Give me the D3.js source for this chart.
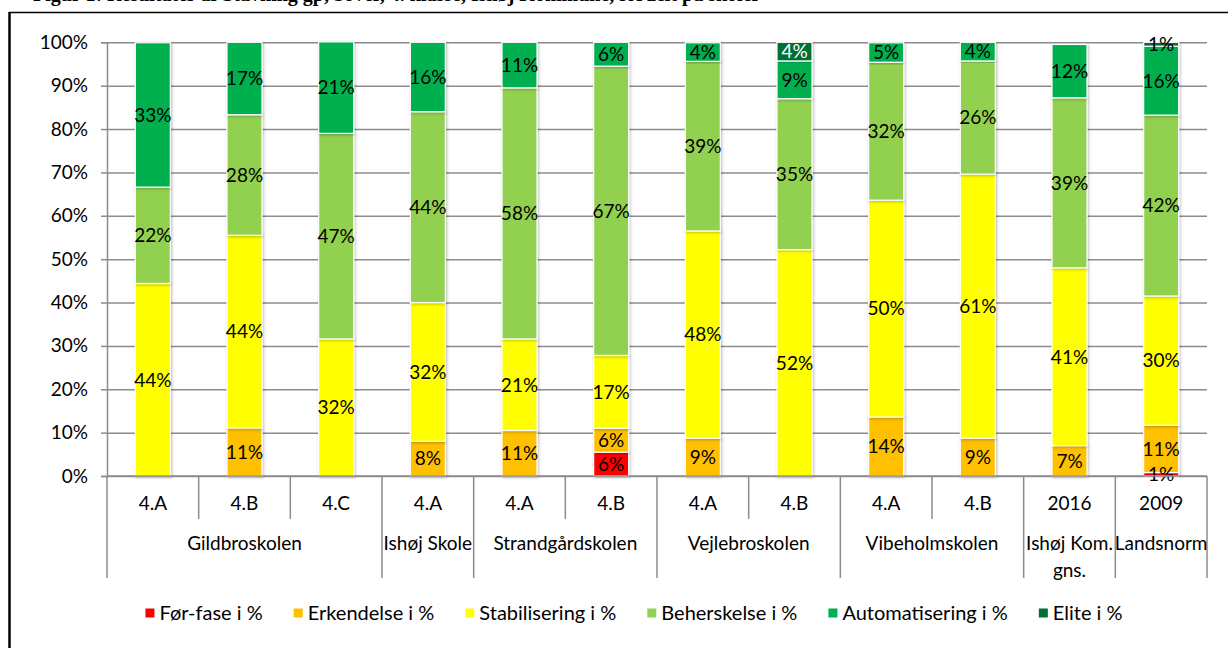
<!DOCTYPE html>
<html><head><meta charset="utf-8">
<script src="https://cdn.jsdelivr.net/npm/d3@7"></script>
<style>
html,body{margin:0;padding:0;background:#fff;}
svg text{font-family:Lato,"Open Sans",sans-serif;}
</style></head>
<body>
<svg id="chart" width="1228" height="648"></svg>
<script>
// ---- data ----
const categories = ["4.A","4.B","4.C","4.A","4.A","4.B","4.A","4.B","4.A","4.B","2016","2009"];
const groupNames = ["Gildbroskolen","Ishøj Skole","Strandgårdskolen","Vejlebroskolen","Vibeholmskolen","Ishøj Kom.|gns.","Landsnorm"];
const groupSizes = [3,1,2,2,2,1,1];
const seriesNames = ["Før-fase i %","Erkendelse i %","Stabilisering i %","Beherskelse i %","Automatisering i %","Elite i %"];
const forFase        = [0,0,0,0,0,5.5,0,0,0,0,0,0.8];
const erkendelse     = [0,11.1,0,8,10.5,5.5,8.7,0,13.6,8.7,7.0,10.9];
const stabilisering  = [44.4,44.4,31.6,32,21.1,16.8,47.8,52.2,50.0,60.9,41.0,29.8];
const beherskelse    = [22.2,27.8,47.4,44,57.9,66.7,39.1,34.8,31.8,26.1,39.2,41.7];
const automatisering = [33.3,16.7,21.1,16,10.5,5.5,4.3,8.7,4.5,4.3,12.3,15.9];
const elite          = [0,0,0,0,0,0,0,4.3,0,0,0,0.9];
const yTicks = [0,10,20,30,40,50,60,70,80,90,100];
const titleText = "Figur 1: Resultater af Stavning gp, 3over, 4. klasse, Ishøj Kommune, fordelt på skoler";

const seriesValues = [forFase, erkendelse, stabilisering, beherskelse, automatisering, elite];
const colors = ["#FF0000","#FFC000","#FFFF00","#92D050","#00B050","#006E35"];

// ---- layout ----
const svg = d3.select("#chart");
const L = 107, R = 1207, T = 42.3, B = 476;
const fs = 19;

// frame + cut-off title (only the bottom of the glyphs is visible)
svg.append("text").attr("x", 33).attr("y", 1)
  .style("font-family", "'Liberation Serif','Times New Roman',serif")
  .style("font-weight", "bold").style("font-size", "20px").text(titleText);
svg.append("line").attr("x1", 9).attr("x2", 1228).attr("y1", 12.5).attr("y2", 12.5)
  .attr("stroke", "#000").attr("stroke-width", 1.5);
svg.append("line").attr("x1", 9.5).attr("x2", 9.5).attr("y1", 12).attr("y2", 648)
  .attr("stroke", "#000").attr("stroke-width", 2.5);

const defs = svg.append("defs");
const f = defs.append("filter").attr("id", "sh").attr("x", "-30%").attr("y", "-10%").attr("width", "160%").attr("height", "120%");
f.append("feDropShadow").attr("dx", 1).attr("dy", 1).attr("stdDeviation", 1.4)
  .attr("flood-color", "#000").attr("flood-opacity", 0.28);

const x = d3.scaleBand().domain(d3.range(categories.length)).range([L, R]).padding(0);
const y = d3.scaleLinear().domain([0, 100]).range([B, T]);
const barW = x.step() * 0.382;

// gridlines
const grid = svg.append("g").attr("transform", `translate(${L},0)`)
  .call(d3.axisRight(y).tickValues(yTicks).tickSize(R - L).tickFormat(""));
grid.select(".domain").remove();
grid.selectAll("line").attr("stroke", "#8c8c8c").attr("stroke-width", 1.5);

// y axis
const ya = svg.append("g").attr("transform", `translate(${L},0)`)
  .call(d3.axisLeft(y).tickValues(yTicks).tickSize(6).tickPadding(13).tickFormat(d => d + "%"));
ya.select(".domain").attr("stroke", "#8c8c8c").attr("stroke-width", 1.5);
ya.selectAll("line").attr("stroke", "#8c8c8c").attr("stroke-width", 1.5);
ya.selectAll("text").style("font-size", fs + "px").attr("fill", "#000").style("font-family", "Lato");

// stacked bars
const rows = categories.map((c, i) => {
  const o = { i };
  seriesNames.forEach((s, k) => o[s] = seriesValues[k][i]);
  return o;
});
const stack = d3.stack().keys(seriesNames)(rows);
const barsG = svg.append("g");
stack.forEach((layer, k) => {
  barsG.append("g").selectAll("rect").data(layer.filter(d => d[1] - d[0] > 0)).join("rect")
    .attr("x", d => x(d.data.i) + x.bandwidth() / 2 - barW / 2)
    .attr("width", barW)
    .attr("y", d => y(d[1]))
    .attr("height", d => y(d[0]) - y(d[1]))
    .attr("fill", colors[k])
    .attr("stroke", "#fff").attr("stroke-width", 1.2)
    .attr("filter", "url(#sh)");
});
// labels
const labG = svg.append("g");
stack.forEach((layer, k) => {
  labG.selectAll(null).data(layer.filter(d => d[1] - d[0] > 0)).join("text")
    .attr("x", d => x(d.data.i) + x.bandwidth() / 2)
    .attr("y", d => y((d[0] + d[1]) / 2))
    .attr("text-anchor", "middle").attr("dy", "0.36em")
    .style("font-size", fs + "px")
    .attr("fill", d => (k === 5 && (y(d[0]) - y(d[1])) > 12) ? "#fff" : "#000")
    .text(d => Math.round(d[1] - d[0]) + "%");
});

// x axis
const axG = svg.append("g");
axG.append("line").attr("x1", L).attr("x2", R).attr("y1", B).attr("y2", B)
  .attr("stroke", "#8c8c8c").attr("stroke-width", 1.5);
const bounds = [0];
groupSizes.forEach(s => bounds.push(bounds[bounds.length - 1] + s));
for (let k = 0; k <= categories.length; k++) {
  const xx = k < categories.length ? x(k) : R;
  const isGroup = bounds.includes(k);
  axG.append("line").attr("x1", xx).attr("x2", xx).attr("y1", B).attr("y2", isGroup ? 578 : 519)
    .attr("stroke", "#8c8c8c").attr("stroke-width", 1.5);
}
axG.selectAll(".cat").data(categories).join("text").attr("class", "cat")
  .attr("x", (d, i) => x(i) + x.bandwidth() / 2).attr("y", 503).attr("dy", "0.36em")
  .attr("text-anchor", "middle").style("font-size", fs + "px").text(d => d);
groupNames.forEach((g, gi) => {
  const x0 = x(bounds[gi]);
  const x1 = bounds[gi + 1] < categories.length ? x(bounds[gi + 1]) : R;
  const parts = g.split("|");
  const t = axG.append("text").attr("x", (x0 + x1) / 2).attr("y", 543).attr("dy", "0.36em")
    .attr("text-anchor", "middle").style("font-size", fs + "px");
  parts.forEach((p, pi) => t.append("tspan").attr("x", (x0 + x1) / 2).attr("dy", pi === 0 ? "0.36em" : "1.42em").text(p));
});

// legend
const lg = svg.append("g");
const items = [];
seriesNames.forEach((s, k) => {
  const it = lg.append("g");
  it.append("rect").attr("x", 0).attr("y", -4.5).attr("width", 9).attr("height", 9).attr("fill", colors[k]);
  const tx = it.append("text").attr("x", 14).attr("y", 0).attr("dy", "0.36em").style("font-size", "20px").text(s);
  const w = 14 + tx.node().getComputedTextLength();
  items.push({ it, w });
});
const gap = 31;
const total = d3.sum(items, d => d.w) + gap * (items.length - 1);
let pos = 634 - total / 2;
items.forEach(d => { d.it.attr("transform", `translate(${pos},613)`); pos += d.w + gap; });
</script>
</body></html>
